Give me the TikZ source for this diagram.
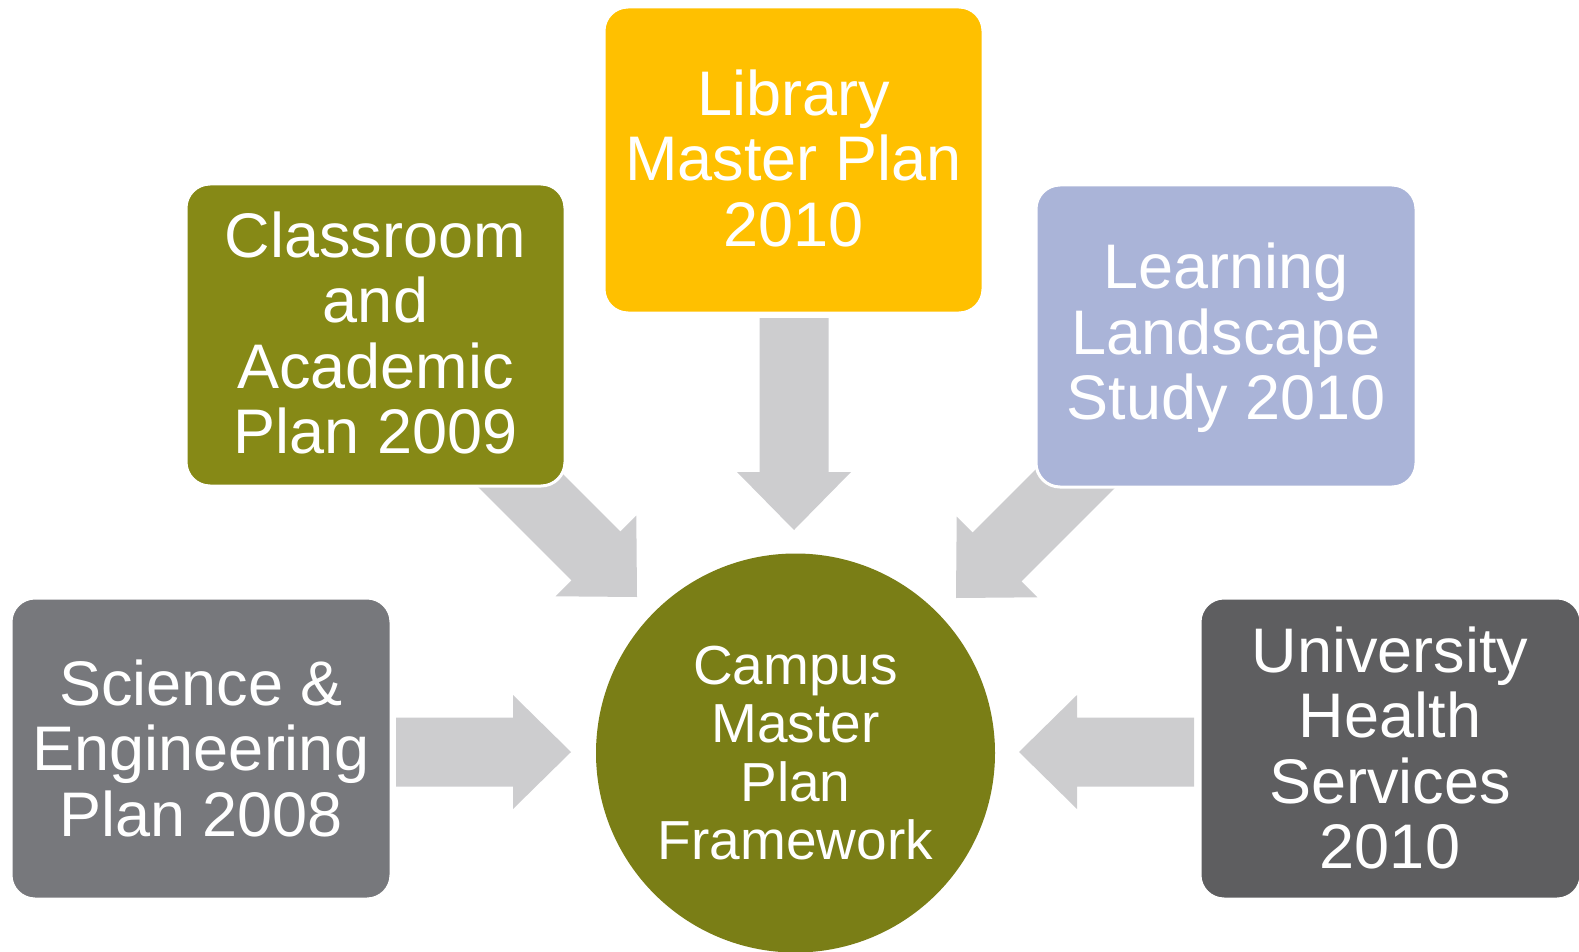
\documentclass[tikz,border=0pt]{standalone}
\usepackage{fontspec}
\setmainfont{Liberation Sans}
\definecolor{libc}{HTML}{FFC000}
\definecolor{clsc}{HTML}{868916}
\definecolor{circ}{HTML}{7A7E16}
\definecolor{lrnc}{HTML}{AAB4D8}
\definecolor{scic}{HTML}{77787C}
\definecolor{unic}{HTML}{5E5E60}
\definecolor{arrc}{HTML}{CDCDCF}
\tikzset{
  planbox/.style={draw=white, line width=3pt, rounded corners=24pt, inner sep=0pt},
  boxtext/.style={text=white, align=center, font=\fontsize{63}{65.5}\selectfont},
  circtext/.style={text=white, align=center, font=\fontsize{55}{58.4}\selectfont},
  arrowfill/.style={fill=arrc},
}
% block arrow: #1 tip coordinate, #2 angle, #3 total length
\newcommand\blockarrow[3]{%
  \begin{scope}[shift={(#1)}, rotate=#2]
    \fill[arrowfill] (-#3,-34.5) -- (-58,-34.5) -- (-58,-57) -- (0,0) -- (-58,57) -- (-58,34.5) -- (-#3,34.5) -- cycle;
  \end{scope}}
\begin{document}
\begin{tikzpicture}[x=1pt,y=-1pt]
\useasboundingbox (0,0) rectangle (1579,952);
% arrow tips
\coordinate (tipR) at (571,752);
\coordinate (tipL) at (1019,752);
\coordinate (tipD) at (794,530);
\coordinate (tipDR) at (637,597);
\coordinate (tipDL) at (956,598);
\blockarrow{tipR}{0}{175}
\blockarrow{tipL}{180}{175}
\blockarrow{tipD}{-90}{212}
\blockarrow{tipDR}{-45}{194}
\blockarrow{tipDL}{-135}{204}
% boxes
\path[planbox, fill=libc] (604,7) rectangle (983,313);
\node[boxtext] (lib) at (793.5,158) {Library\\Master Plan\\2010};
\path[planbox, fill=clsc] (186,184) rectangle (565,486);
\node[boxtext] (cls) at (375.5,333) {Classroom\\and\\Academic\\Plan 2009};
\path[planbox, fill=lrnc] (1036,185) rectangle (1416,487);
\node[boxtext] (lrn) at (1226,338) {Learning\\Landscape\\Study 2010};
\path[planbox, fill=scic] (11,598) rectangle (391,899);
\node[boxtext] (sci) at (201,748) {Science \&\\Engineering\\Plan 2008};
\path[planbox, fill=unic] (1200,598) rectangle (1581,899);
\node[boxtext] (uni) at (1390,748) {University\\Health\\Services\\2010};
% center circle
\fill[circ] (795.5,753) circle (199.5);
\node[circtext] (cmp) at (795.5,753) {Campus\\Master\\Plan\\Framework};
\end{tikzpicture}
\end{document}
